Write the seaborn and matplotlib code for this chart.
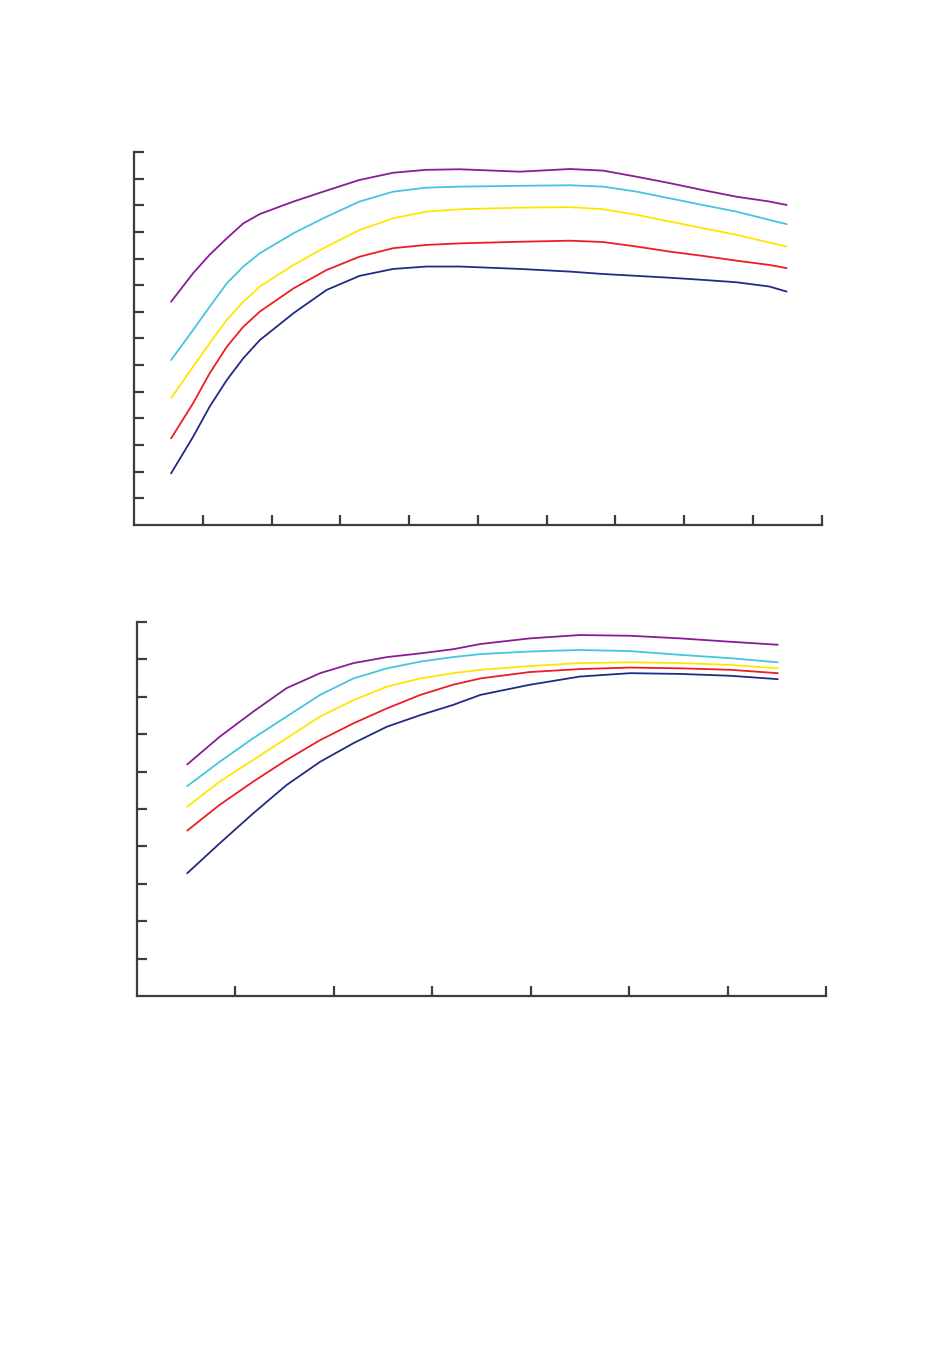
import numpy as np
import pandas as pd
import seaborn as sns
import matplotlib
matplotlib.use("Agg")
import matplotlib.pyplot as plt

# Top panel: x positions and five curves
x_top = [0.54, 0.86, 1.10, 1.35, 1.59, 1.83, 2.32, 2.80, 3.28, 3.77, 4.25,
         4.74, 5.61, 6.34, 6.82, 7.31, 7.79, 8.27, 8.76, 9.24, 9.49]
top_purple = [8.38, 9.45, 10.14, 10.76, 11.32, 11.67, 12.14, 12.55, 12.95, 13.22, 13.33,
              13.35, 13.26, 13.36, 13.30, 13.07, 12.83, 12.57, 12.32, 12.14, 12.01]
top_cyan = [6.19, 7.32, 8.19, 9.07, 9.70, 10.20, 10.95, 11.57, 12.14, 12.51, 12.66,
            12.70, 12.73, 12.75, 12.70, 12.51, 12.26, 12.01, 11.76, 11.45, 11.29]
top_yellow = [4.76, 5.94, 6.82, 7.70, 8.38, 8.95, 9.76, 10.45, 11.07, 11.51, 11.76,
              11.85, 11.91, 11.93, 11.85, 11.64, 11.39, 11.14, 10.89, 10.60, 10.45]
top_red = [3.25, 4.57, 5.69, 6.69, 7.44, 8.01, 8.88, 9.57, 10.07, 10.39, 10.51,
           10.57, 10.63, 10.67, 10.62, 10.45, 10.26, 10.10, 9.92, 9.76, 9.64]
top_navy = [1.94, 3.31, 4.44, 5.44, 6.26, 6.94, 7.95, 8.82, 9.35, 9.61, 9.70,
            9.70, 9.61, 9.51, 9.42, 9.35, 9.28, 9.20, 9.11, 8.95, 8.76]

# Bottom panel
x_bot = [0.51, 0.84, 1.18, 1.52, 1.86, 2.20, 2.54, 2.88, 3.21, 3.49, 3.99,
         4.50, 5.01, 5.52, 6.03, 6.51]
bot_purple = [6.19, 6.93, 7.60, 8.23, 8.63, 8.90, 9.06, 9.16, 9.27, 9.41, 9.56,
              9.65, 9.63, 9.56, 9.47, 9.39]
bot_cyan = [5.61, 6.26, 6.89, 7.47, 8.05, 8.49, 8.76, 8.94, 9.06, 9.14, 9.21,
            9.25, 9.22, 9.12, 9.03, 8.92]
bot_yellow = [5.06, 5.73, 6.31, 6.89, 7.47, 7.91, 8.27, 8.49, 8.63, 8.72, 8.82,
              8.90, 8.92, 8.90, 8.85, 8.76]
bot_red = [4.42, 5.11, 5.73, 6.31, 6.84, 7.29, 7.69, 8.05, 8.32, 8.49, 8.66,
           8.74, 8.78, 8.76, 8.72, 8.63]
bot_navy = [3.28, 4.08, 4.88, 5.64, 6.26, 6.76, 7.20, 7.51, 7.78, 8.05, 8.32,
            8.54, 8.63, 8.61, 8.56, 8.47]

series_names = ["purple", "cyan", "yellow", "red", "navy"]
colors = {"purple": "#8a1c96", "cyan": "#45c4e2", "yellow": "#ffe600",
          "red": "#ee1c25", "navy": "#1f2b85"}


def long_df(x, curves):
    rows = []
    for name, vals in zip(series_names, curves):
        for xi, yi in zip(x, vals):
            rows.append({"x": xi, "y": yi, "s": name})
    return pd.DataFrame(rows)


df_top = long_df(x_top, [top_purple, top_cyan, top_yellow, top_red, top_navy])
df_bot = long_df(x_bot, [bot_purple, bot_cyan, bot_yellow, bot_red, bot_navy])

sns.set_style("white")
fig = plt.figure(figsize=(9.5, 13.69), dpi=100)
ax1 = fig.add_axes([0.141, 0.6165, 0.724, 0.2725])
ax2 = fig.add_axes([0.1442, 0.2725, 0.7253, 0.2732])

sns.lineplot(data=df_top, x="x", y="y", hue="s", palette=colors, ax=ax1,
             legend=False, linewidth=1.3, solid_joinstyle="round")
sns.lineplot(data=df_bot, x="x", y="y", hue="s", palette=colors, ax=ax2,
             legend=False, linewidth=1.3, solid_joinstyle="round")

for ax, xmax, ymax in [(ax1, 10, 14), (ax2, 7, 10)]:
    ax.set_xlim(0, xmax)
    ax.set_ylim(0, ymax)
    ax.set_xticks(range(1, xmax + 1))
    ax.set_yticks(range(1, ymax + 1))
    ax.set_xticklabels([])
    ax.set_yticklabels([])
    ax.set_xlabel("")
    ax.set_ylabel("")
    for side in ["top", "right"]:
        ax.spines[side].set_visible(False)
    for side in ["left", "bottom"]:
        ax.spines[side].set_color("#3d3d3d")
        ax.spines[side].set_linewidth(1.6)
    ax.tick_params(direction="in", length=7, width=1.6, color="#3d3d3d",
                   left=True, bottom=True)

fig.savefig("out.png", dpi=100)
